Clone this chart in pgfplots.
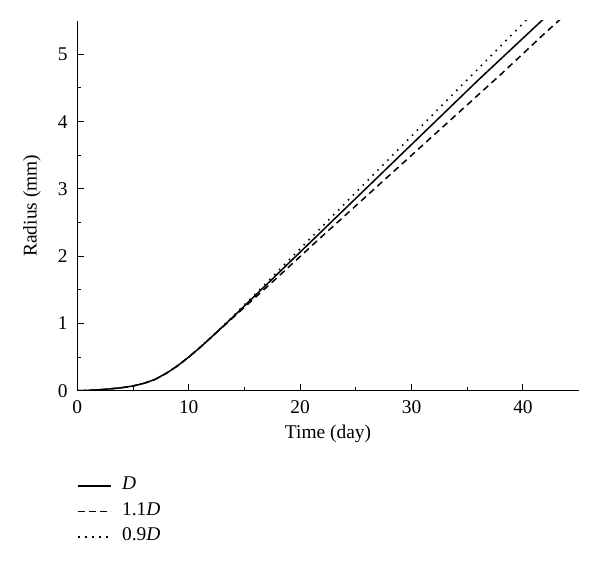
\documentclass[border=0pt]{standalone}
\usepackage{pgfplots}
\pgfplotsset{compat=1.18}
\usepackage{fontspec}
\setmainfont{Liberation Serif}
\begin{document}
\fontsize{19.5}{23}\selectfont
\begin{tikzpicture}
\begin{axis}[
  scale only axis,
  width=501.4bp, height=370bp,
  xmin=0, xmax=45, ymin=0, ymax=5.5,
  axis lines=left,
  axis line style={-, line width=1bp},
  xtick={0,10,20,30,40},
  ytick={0,1,2,3,4,5},
  minor x tick num=1,
  minor y tick num=1,
  tick align=inside,
  major tick length=7bp,
  minor tick length=4bp,
  tick style={line width=1bp, black},
  /pgf/number format/assume math mode=true,
  ticklabel style={font=\fontsize{19.5}{23}\selectfont},
  xticklabel style={yshift=-3bp},
  yticklabel style={xshift=-3bp},
  label style={font=\fontsize{19.5}{23}\selectfont},
  xlabel={Time (day)},
  xlabel style={yshift=2bp},
  ylabel={Radius (mm)},
  ylabel style={yshift=4bp},
  legend style={draw=none, fill=none, at={(0,-0.227)}, anchor=north west,
    font=\fontsize{19.5}{23}\selectfont, row sep=3.5bp, inner sep=0pt,
    nodes={text height=13bp, text depth=5bp, inner sep=2bp}},
  legend cell align=left,
  legend image code/.code={\draw[#1] (0bp,0bp) -- (33bp,0bp);},
  /tikz/every odd column/.append style={column sep=8bp},
]
\addplot[black, line width=1.5bp] coordinates {
(0,0) (1,0.005) (2,0.014) (3,0.028) (4,0.045) (5,0.07) (6,0.11) (7,0.17) (8,0.26) (9,0.37) (10,0.5) (11,0.64) (12,0.79) (13,0.945) (14,1.1) (15,1.26) (16,1.42) (18,1.74) (20,2.06) (22,2.38) (24,2.70) (26,3.02) (28,3.34) (30,3.66) (32,3.98) (34,4.30) (36,4.62) (38,4.93) (40,5.24) (42,5.55) (43,5.7)
};
\addlegendentry{\textit{D}}
\addplot[black, line width=1.5bp, dash pattern=on 6.5bp off 4.5bp] coordinates {
(0,0) (1,0.005) (2,0.014) (3,0.028) (4,0.045) (5,0.07) (6,0.11) (7,0.17) (8,0.26) (9,0.37) (10,0.5) (11,0.64) (12,0.79) (13,0.94) (14,1.09) (15,1.24) (16,1.39) (18,1.69) (20,1.995) (22,2.30) (24,2.60) (26,2.90) (28,3.20) (30,3.50) (32,3.80) (34,4.10) (36,4.40) (38,4.70) (40,5.01) (42,5.32) (44,5.62) (45,5.78)
};
\addlegendentry{1.1\textit{D}}
\addplot[black, line width=1.6bp, dash pattern=on 1.5bp off 5.5bp] coordinates {
(0,0) (1,0.005) (2,0.014) (3,0.028) (4,0.045) (5,0.07) (6,0.11) (7,0.17) (8,0.26) (9,0.37) (10,0.5) (11,0.645) (12,0.795) (13,0.95) (14,1.11) (15,1.275) (16,1.44) (18,1.775) (20,2.11) (22,2.445) (24,2.78) (26,3.115) (28,3.45) (30,3.785) (32,4.12) (34,4.455) (36,4.79) (38,5.125) (40,5.46) (41,5.63)
};
\addlegendentry{0.9\textit{D}}
\end{axis}
\path (current axis.south west) ++(-77.3bp,-175.3bp) rectangle ++(600bp,566bp);
\end{tikzpicture}
\end{document}
